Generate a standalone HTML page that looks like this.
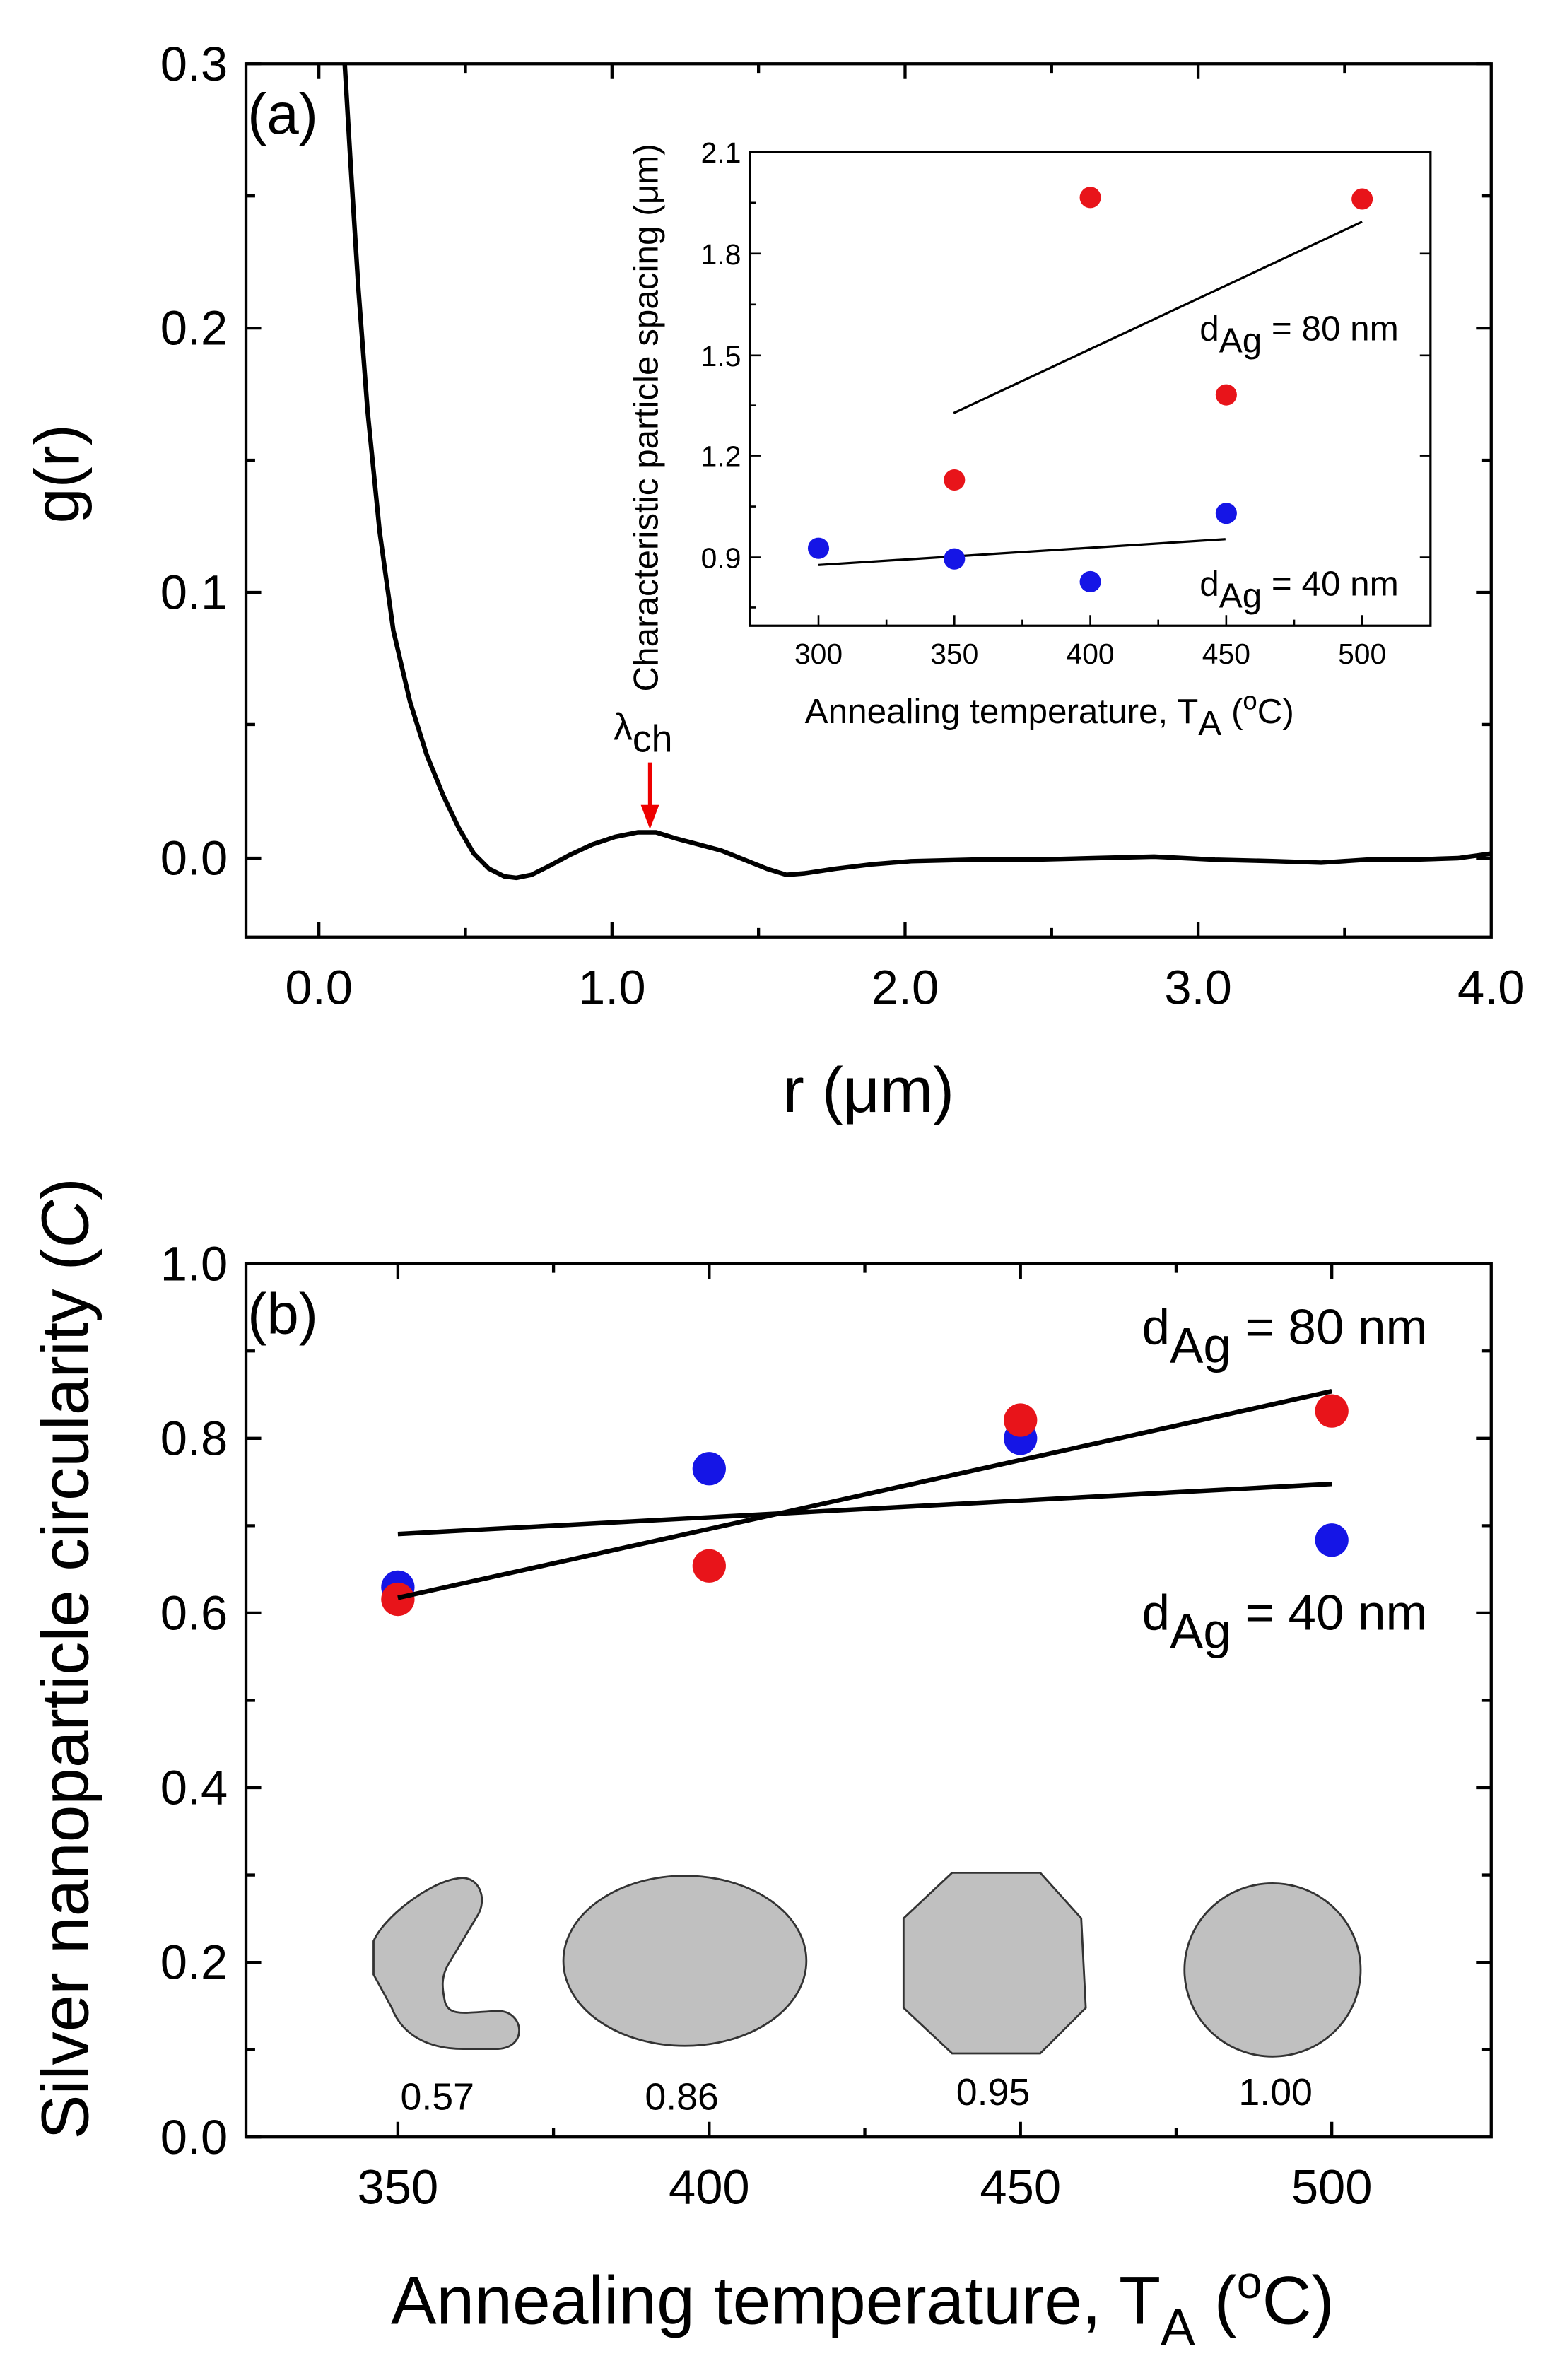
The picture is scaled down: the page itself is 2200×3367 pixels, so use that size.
<!DOCTYPE html>
<html><head><meta charset="utf-8"><style>html,body{margin:0;padding:0;background:#fff}svg{display:block}</style></head>
<body>
<svg width="2200" height="3367" viewBox="0 0 1024 1567" preserveAspectRatio="none" xmlns="http://www.w3.org/2000/svg" font-family="Liberation Sans, sans-serif">
<rect width="1024" height="1567" fill="#fff"/>
<!-- Panel a -->
<rect x="162" y="42" width="820" height="575" fill="none" stroke="#000" stroke-width="2"/>
<g stroke="#000" stroke-width="2">
<path d="M210,617v-10M403,617v-10M596,617v-10M789,617v-10M306.5,617v-6M499.5,617v-6M692.5,617v-6M885.5,617v-6
M210,42v10M403,42v10M596,42v10M789,42v10M306.5,42v6M499.5,42v6M692.5,42v6M885.5,42v6
M162,42h10M162,216h10M162,390h10M162,565h10M162,129h6M162,303h6M162,477h6
M982,42h-10M982,216h-10M982,390h-10M982,565h-10M982,129h-6M982,303h-6M982,477h-6"/>
</g>
<g font-size="32" text-anchor="end" fill="#000">
<text x="150" y="53">0.3</text><text x="150" y="227">0.2</text><text x="150" y="401">0.1</text><text x="150" y="576">0.0</text>
</g>
<g font-size="32" text-anchor="middle">
<text x="210" y="661">0.0</text><text x="403" y="661">1.0</text><text x="596" y="661">2.0</text><text x="789" y="661">3.0</text><text x="982" y="661">4.0</text>
</g>
<text x="572" y="732" font-size="42" text-anchor="middle">r (μm)</text>
<text transform="translate(52,312) rotate(-90)" font-size="42" text-anchor="middle">g(r)</text>
<text x="163" y="88" font-size="38">(a)</text>
<path d="M227,42 L231,110 L236,190 L242,270 L250,350 L259,415 L270,462 L281,497 L292,524 L302,545 L312,562 L322,572 L332,577 L340,578 L350,576 L362,570 L375,563 L390,556 L405,551 L420,548 L432,548 L445,552 L460,556 L475,560 L490,566 L505,572 L518,576 L530,575 L550,572 L575,569 L600,567 L640,566 L680,566 L720,565 L760,564 L800,566 L840,567 L870,568 L900,566 L930,566 L960,565 L982,562" fill="none" stroke="#000" stroke-width="3" stroke-linejoin="round"/>
<line x1="428" y1="502" x2="428" y2="532" stroke="#e00" stroke-width="2.5"/>
<polygon points="422,530 434,530 428,546" fill="#e00"/>
<text x="404" y="487" font-size="25">λ<tspan dy="8">ch</tspan></text>
<!-- inset -->
<rect x="494" y="100" width="448" height="312" fill="none" stroke="#000" stroke-width="1.5"/>
<g stroke="#000" stroke-width="1.2">
<path d="M539,412v-7M628.5,412v-7M718,412v-7M807.5,412v-7M897,412v-7M583.75,412v-4M673.25,412v-4M762.75,412v-4M852.25,412v-4
M494,100h7M494,167h7M494,234h7M494,300h7M494,367h7M494,133.5h4M494,200.5h4M494,267h4M494,333.5h4M494,400h4
M942,100h-7M942,167h-7M942,234h-7M942,300h-7M942,367h-7"/>
</g>
<g font-size="19" text-anchor="end"><text x="488" y="107">2.1</text><text x="488" y="174">1.8</text><text x="488" y="241">1.5</text><text x="488" y="307">1.2</text><text x="488" y="374">0.9</text></g>
<g font-size="19" text-anchor="middle"><text x="539" y="437">300</text><text x="628.5" y="437">350</text><text x="718" y="437">400</text><text x="807.5" y="437">450</text><text x="897" y="437">500</text></g>
<text x="530" y="476" font-size="23">Annealing temperature, T<tspan dy="8">A</tspan><tspan dy="-8"> (</tspan><tspan font-size="17" dy="-9">o</tspan><tspan dy="9">C)</tspan></text>
<text transform="translate(433,275) rotate(-90)" font-size="23" text-anchor="middle">Characteristic particle spacing (μm)</text>
<line x1="628" y1="272" x2="897" y2="146" stroke="#000" stroke-width="1.5"/>
<line x1="539" y1="372" x2="807" y2="355" stroke="#000" stroke-width="1.5"/>
<g fill="#e8141a"><circle cx="628.5" cy="316" r="7"/><circle cx="718" cy="130" r="7"/><circle cx="807.5" cy="260" r="7"/><circle cx="897" cy="131" r="7"/></g>
<g fill="#1515e6"><circle cx="539" cy="361" r="7"/><circle cx="628.5" cy="368" r="7"/><circle cx="718" cy="383" r="7"/><circle cx="807.5" cy="338" r="7"/></g>
<text x="790" y="224" font-size="23">d<tspan dy="8">Ag</tspan><tspan dy="-8"> = 80 nm</tspan></text>
<text x="790" y="392" font-size="23">d<tspan dy="8">Ag</tspan><tspan dy="-8"> = 40 nm</tspan></text>
<!-- Panel b -->
<rect x="162" y="832" width="820" height="575" fill="none" stroke="#000" stroke-width="2"/>
<g stroke="#000" stroke-width="2">
<path d="M262,1407v-10M467,1407v-10M672,1407v-10M877,1407v-10M364.5,1407v-6M569.5,1407v-6M774.5,1407v-6
M262,832v10M467,832v10M672,832v10M877,832v10M364.5,832v6M569.5,832v6M774.5,832v6
M162,832h10M162,947h10M162,1062h10M162,1177h10M162,1292h10M162,1407h10M162,889.5h6M162,1004.5h6M162,1119.5h6M162,1234.5h6M162,1349.5h6
M982,832h-10M982,947h-10M982,1062h-10M982,1177h-10M982,1292h-10M982,889.5h-6M982,1004.5h-6M982,1119.5h-6M982,1234.5h-6M982,1349.5h-6"/>
</g>
<g font-size="32" text-anchor="end"><text x="150" y="843">1.0</text><text x="150" y="958">0.8</text><text x="150" y="1073">0.6</text><text x="150" y="1188">0.4</text><text x="150" y="1303">0.2</text><text x="150" y="1418">0.0</text></g>
<g font-size="32" text-anchor="middle"><text x="262" y="1451">350</text><text x="467" y="1451">400</text><text x="672" y="1451">450</text><text x="877" y="1451">500</text></g>
<text x="568" y="1530" font-size="45" text-anchor="middle">Annealing temperature, T<tspan font-size="34" dy="14">A</tspan><tspan dy="-14"> (</tspan><tspan font-size="30" dy="-17">o</tspan><tspan dy="17">C)</tspan></text>
<text transform="translate(58,1092) rotate(-90)" font-size="44" text-anchor="middle">Silver nanoparticle circularity (<tspan font-style="italic">C</tspan>)</text>
<text x="163" y="878" font-size="38">(b)</text>
<text x="752" y="885" font-size="33">d<tspan dy="12">Ag</tspan><tspan dy="-12"> = 80 nm</tspan></text>
<text x="752" y="1073" font-size="33">d<tspan dy="12">Ag</tspan><tspan dy="-12"> = 40 nm</tspan></text>
<g fill="#1515e6"><circle cx="262" cy="1045" r="11"/><circle cx="467" cy="967" r="11"/><circle cx="672" cy="947" r="11"/><circle cx="877" cy="1014" r="11"/></g>
<g fill="#e8141a"><circle cx="262" cy="1053" r="11"/><circle cx="467" cy="1031" r="11"/><circle cx="672" cy="935" r="11"/><circle cx="877" cy="929" r="11"/></g>
<line x1="262" y1="1052" x2="877" y2="916" stroke="#000" stroke-width="3"/>
<line x1="262" y1="1010" x2="877" y2="977" stroke="#000" stroke-width="3"/>
<g fill="#c0c0c0" stroke="#333" stroke-width="1.3">
<path d="M300,1237 C315,1233 322,1250 314,1262 L296,1292 C289,1303 292,1312 293,1318 C296,1328 306,1325 328,1324 C345,1324 348,1348 328,1349 L305,1349 C282,1349 265,1340 258,1322 L246,1300 L246,1278 C253,1262 282,1240 300,1237 Z"/>
<ellipse cx="451" cy="1291" rx="80" ry="56"/>
<polygon points="627,1233 685,1233 712,1263 715,1322 685,1352 627,1352 595,1322 595,1263"/>
<ellipse cx="838" cy="1297" rx="58" ry="57"/>
</g>
<g font-size="25" text-anchor="middle"><text x="288" y="1389">0.57</text><text x="449" y="1389">0.86</text><text x="654" y="1386">0.95</text><text x="840" y="1386">1.00</text></g>
</svg>
</body></html>
